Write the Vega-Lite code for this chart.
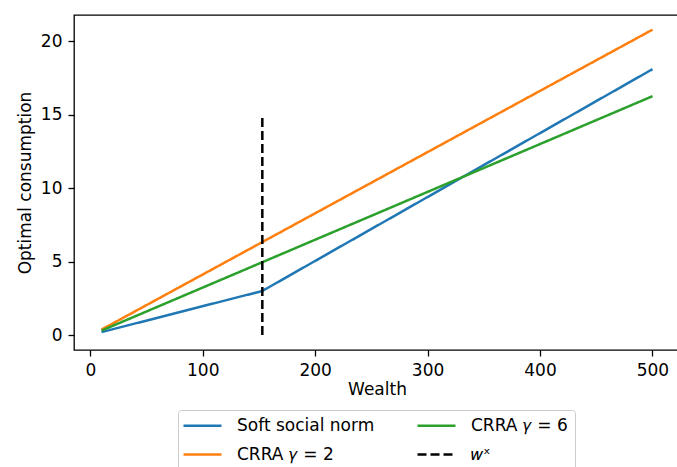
{
  "$schema": "https://vega.github.io/schema/vega-lite/v6.json",
  "autosize": "none",
  "width": 606,
  "height": 335,
  "padding": {"left": 74, "top": 15, "right": 0, "bottom": 117},
  "background": "white",
  "config": {
    "font": "DejaVu Sans",
    "view": {"stroke": "black", "strokeWidth": 1.3},
    "axis": {
      "grid": false,
      "domain": false,
      "tickColor": "black",
      "tickSize": 6,
      "tickWidth": 1.3,
      "labelFont": "DejaVu Sans",
      "labelFontSize": 17,
      "labelColor": "black",
      "labelPadding": 6,
      "titleFont": "DejaVu Sans",
      "titleFontSize": 17,
      "titleFontWeight": "normal",
      "titleColor": "black"
    }
  },
  "data": {
    "values": [
      {"series": "Soft social norm", "wealth": 10, "c": 0.2, "o": 1},
      {"series": "Soft social norm", "wealth": 153, "c": 3.0, "o": 2},
      {"series": "Soft social norm", "wealth": 500, "c": 18.1, "o": 3},
      {"series": "CRRA 𝛾 = 2", "wealth": 10, "c": 0.37, "o": 1},
      {"series": "CRRA 𝛾 = 2", "wealth": 500, "c": 20.79, "o": 2},
      {"series": "CRRA 𝛾 = 6", "wealth": 10, "c": 0.3, "o": 1},
      {"series": "CRRA 𝛾 = 6", "wealth": 500, "c": 16.26, "o": 2},
      {"series": "𝑤ˣ", "wealth": 153, "c": 0, "o": 1},
      {"series": "𝑤ˣ", "wealth": 153, "c": 15, "o": 2}
    ]
  },
  "mark": {"type": "line", "strokeWidth": 2.5},
  "encoding": {
    "x": {
      "field": "wealth",
      "type": "quantitative",
      "scale": {"domain": [-14.5, 524.5], "nice": false, "zero": false},
      "axis": {"values": [0, 100, 200, 300, 400, 500], "title": "Wealth", "titlePadding": 3}
    },
    "y": {
      "field": "c",
      "type": "quantitative",
      "scale": {"domain": [-1.02, 21.79], "nice": false, "zero": false},
      "axis": {"values": [0, 5, 10, 15, 20], "title": "Optimal consumption", "titlePadding": 6}
    },
    "order": {"field": "o", "type": "quantitative"},
    "color": {
      "field": "series",
      "type": "nominal",
      "scale": {
        "domain": ["Soft social norm", "CRRA 𝛾 = 2", "CRRA 𝛾 = 6", "𝑤ˣ"],
        "range": ["#1f77b4", "#ff7f0e", "#2ca02c", "black"]
      },
      "legend": {
        "title": null,
        "orient": "none",
        "legendX": 104,
        "legendY": 395,
        "columns": 2,
        "columnPadding": 37,
        "rowPadding": 11,
        "symbolType": "M-2.5,0H7",
        "symbolSize": 64,
        "symbolStrokeWidth": 2.5,
        "labelFontSize": 17,
        "labelFont": "DejaVu Sans",
        "labelColor": "black",
        "labelOffset": 35,
        "padding": 7,
        "strokeColor": "#cccccc",
        "cornerRadius": 3,
        "fillColor": "white"
      }
    },
    "strokeDash": {
      "field": "series",
      "type": "nominal",
      "scale": {
        "domain": ["Soft social norm", "CRRA 𝛾 = 2", "CRRA 𝛾 = 6", "𝑤ˣ"],
        "range": [[1, 0], [1, 0], [1, 0], [9, 4]]
      },
      "legend": null
    }
  }
}
